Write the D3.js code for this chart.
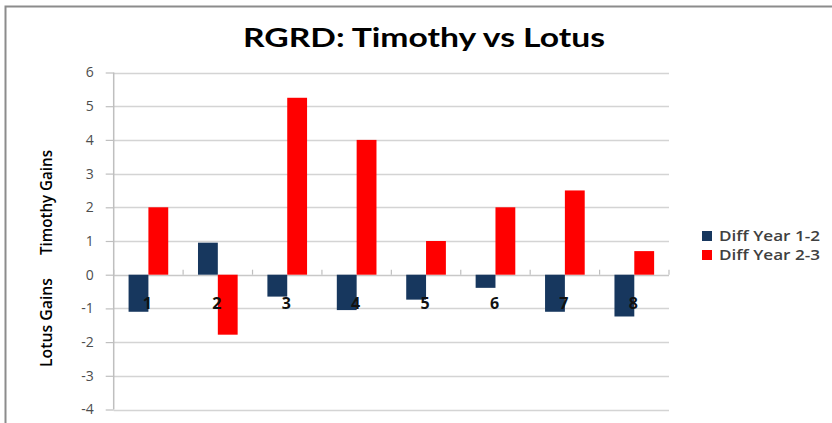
<!DOCTYPE html>
<html>
<head>
<meta charset="utf-8">
<script src="https://cdn.jsdelivr.net/npm/d3@7"></script>
<style>
  body { margin: 0; background: #fff; }
  svg { display: block; }
  .axis path { display: none; }
</style>
</head>
<body>
<div id="chart"></div>
<script>
const categories = ["1", "2", "3", "4", "5", "6", "7", "8"];
const seriesNames = ["Diff Year 1-2", "Diff Year 2-3"];
const diffYear12 = [-1.1, 0.95, -0.65, -1.05, -0.74, -0.39, -1.1, -1.24];
const diffYear23 = [2.0, -1.78, 5.25, 4.0, 1.0, 2.0, 2.5, 0.7];
const yTicks = [-4, -3, -2, -1, 0, 1, 2, 3, 4, 5, 6];
const colors = ["#17375e", "#ff0000"];

const W = 832, H = 423;
const plot = { left: 113.7, right: 669, top: 72.5, bottom: 409.5 };

const svg = d3.select("#chart").append("svg")
    .attr("width", W)
    .attr("height", H);

// outer frame (only left and top edges fall inside the picture)
svg.append("path")
    .attr("d", "M5.5," + H + "V6.5H" + W)
    .attr("fill", "none")
    .attr("stroke", "#8c8c8c")
    .attr("stroke-width", 2);

var x = d3.scaleBand()
    .domain(categories)
    .range([plot.left, plot.right])
    .padding(0);

var bw = x.bandwidth();
var gap = bw * 0.75 / 3.5;
var xs = d3.scaleBand()
    .domain(seriesNames)
    .range([gap, bw - gap]);

var y = d3.scaleLinear()
    .domain([-4, 6])
    .range([plot.bottom, plot.top]);

// gridlines
svg.append("g")
    .selectAll("line")
    .data(yTicks)
    .enter().append("line")
        .attr("x1", plot.left)
        .attr("x2", plot.right)
        .attr("y1", function(d) { return Math.round(y(d)) + 0.5; })
        .attr("y2", function(d) { return Math.round(y(d)) + 0.5; })
        .attr("stroke", function(d) { return d === 0 ? "#c8c8c8" : "#d4d4d4"; })
        .attr("stroke-width", 1.5);

// y axis
var yAxis = d3.axisLeft(y)
    .tickValues(yTicks)
    .tickSize(8)
    .tickPadding(12)
    .tickFormat(function(d) { return String(d); });

var yg = svg.append("g")
    .attr("class", "axis")
    .attr("transform", "translate(" + plot.left + ",0)")
    .call(yAxis);
yg.selectAll(".tick line").attr("stroke", "#bfbfbf").attr("stroke-width", 1.2);
yg.selectAll(".tick text")
    .attr("fill", "#4d4d4d")
    .style("font-family", "'Open Sans', sans-serif")
    .style("font-size", "14px");

svg.append("line")
    .attr("x1", plot.left).attr("x2", plot.left)
    .attr("y1", plot.top).attr("y2", plot.bottom)
    .attr("stroke", "#bfbfbf")
    .attr("stroke-width", 1.5);

// bars
var rows = categories.map(function(c, i) {
    return { cat: c, values: [diffYear12[i], diffYear23[i]] };
});

var groups = svg.selectAll(".cat")
    .data(rows)
    .enter().append("g")
        .attr("class", "cat")
        .attr("transform", function(d) { return "translate(" + x(d.cat) + ",0)"; });

groups.selectAll("rect")
    .data(function(d) { return d.values.map(function(v, k) { return { key: seriesNames[k], value: v, k: k }; }); })
    .enter().append("rect")
        .attr("x", function(d) { return xs(d.key); })
        .attr("width", xs.bandwidth())
        .attr("y", function(d) { return y(Math.max(0, d.value)); })
        .attr("height", function(d) { return Math.abs(y(d.value) - y(0)); })
        .attr("fill", function(d) { return colors[d.k]; });

// category ticks on the zero line
var boundaries = categories.map(function(c) { return x(c); }).concat([plot.right]);
svg.append("g")
    .selectAll("line")
    .data(boundaries)
    .enter().append("line")
        .attr("x1", function(d) { return d; })
        .attr("x2", function(d) { return d; })
        .attr("y1", y(0) - 5)
        .attr("y2", y(0))
        .attr("stroke", "#bfbfbf")
        .attr("stroke-width", 1.2);

// category labels
svg.append("g")
    .selectAll("text")
    .data(categories)
    .enter().append("text")
        .attr("x", function(d) { return x(d) + bw / 2 - 1; })
        .attr("y", y(0) + 34)
        .attr("text-anchor", "middle")
        .attr("fill", "#111")
        .style("font-family", "'Open Sans', sans-serif")
        .style("font-size", "16px")
        .style("font-weight", "bold")
        .text(function(d) { return d; });

// title
svg.append("text")
    .attr("x", 243)
    .attr("y", 47)
    .attr("textLength", 362)
    .attr("lengthAdjust", "spacingAndGlyphs")
    .attr("fill", "#000")
    .style("font-family", "Lato, sans-serif")
    .style("font-size", "27px")
    .style("font-weight", "bold")
    .text("RGRD: Timothy vs Lotus");

// axis titles
var axisTitles = [
    { text: "Timothy Gains", y0: 255, len: 105 },
    { text: "Lotus Gains", y0: 367, len: 89 }
];
svg.append("g")
    .selectAll("text")
    .data(axisTitles)
    .enter().append("text")
        .attr("transform", function(d) { return "translate(52," + d.y0 + ") rotate(-90)"; })
        .attr("textLength", function(d) { return d.len; })
        .attr("lengthAdjust", "spacingAndGlyphs")
        .attr("fill", "#000")
        .style("font-family", "'Open Sans', sans-serif")
        .style("font-size", "16px")
        .style("font-weight", "600")
        .text(function(d) { return d.text; });

// legend
var legend = svg.append("g")
    .selectAll("g")
    .data(seriesNames)
    .enter().append("g")
        .attr("transform", function(d, i) { return "translate(702," + (236 + i * 19) + ")"; });

legend.append("rect")
    .attr("x", 0)
    .attr("y", -5)
    .attr("width", 10)
    .attr("height", 10)
    .attr("fill", function(d, i) { return colors[i]; });

legend.append("text")
    .attr("x", 17)
    .attr("y", 5)
    .attr("textLength", 101)
    .attr("lengthAdjust", "spacingAndGlyphs")
    .attr("fill", "#404040")
    .style("font-family", "'Open Sans', sans-serif")
    .style("font-size", "14px")
    .style("font-weight", "600")
    .text(function(d) { return d; });
</script>
</body>
</html>
